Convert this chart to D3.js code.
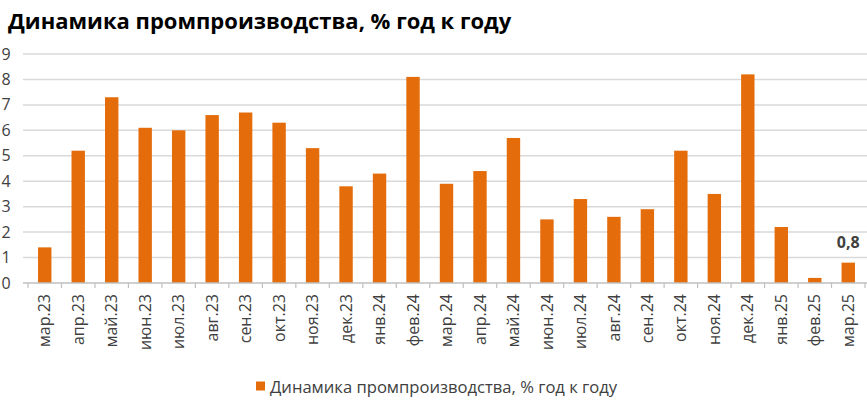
<!doctype html>
<html>
<head>
<meta charset="utf-8">
<script src="https://d3js.org/d3.v7.min.js"></script>
<style>
body { margin: 0; background: #fff; }
svg text { font-family: "Open Sans", "DejaVu Sans", sans-serif; }
</style>
</head>
<body>
<script>
// chart data
var months = ["мар.23","апр.23","май.23","июн.23","июл.23","авг.23","сен.23","окт.23","ноя.23","дек.23",
              "янв.24","фев.24","мар.24","апр.24","май.24","июн.24","июл.24","авг.24","сен.24","окт.24",
              "ноя.24","дек.24","янв.25","фев.25","мар.25"];
var values = [1.4, 5.2, 7.3, 6.1, 6.0, 6.6, 6.7, 6.3, 5.3, 3.8,
              4.3, 8.1, 3.9, 4.4, 5.7, 2.5, 3.3, 2.6, 2.9, 5.2,
              3.5, 8.2, 2.2, 0.2, 0.8];
var yTicks = [0, 1, 2, 3, 4, 5, 6, 7, 8, 9];
var title = "Динамика промпроизводства, % год к году";
var seriesName = "Динамика промпроизводства, % год к году";

var W = 867, H = 412;
var plotL = 28, plotR = 865, plotT = 54, plotB = 283;
var barColor = "#e46c0a";

var svg = d3.select("body").append("svg")
    .attr("width", W)
    .attr("height", H);

var x = d3.scaleBand()
    .domain(months)
    .range([plotL, plotR])
    .paddingInner(0.6)
    .paddingOuter(0.3);

var y = d3.scaleLinear()
    .domain([0, 9])
    .range([plotB, plotT]);

// title
svg.append("text")
    .attr("x", 8)
    .attr("y", 29)
    .attr("font-size", 22)
    .attr("font-weight", "bold")
    .attr("fill", "#000")
    .text(title);

// gridlines
svg.append("g").selectAll("line")
    .data(yTicks.filter(function(d) { return d > 0; }))
    .join("line")
    .attr("x1", 23)
    .attr("x2", W)
    .attr("y1", function(d) { return y(d); })
    .attr("y2", function(d) { return y(d); })
    .attr("stroke", "#d9d9d9")
    .attr("stroke-width", 1.5);

// y axis labels
svg.append("g").selectAll("text")
    .data(yTicks)
    .join("text")
    .attr("x", 6)
    .attr("y", function(d) { return y(d); })
    .attr("dy", "0.35em")
    .attr("text-anchor", "middle")
    .attr("font-size", 16)
    .attr("fill", "#404040")
    .text(function(d) { return d; });

// bars
svg.append("g").selectAll("rect")
    .data(values)
    .join("rect")
    .attr("x", function(d, i) { return x(months[i]); })
    .attr("y", function(d) { return y(d); })
    .attr("width", x.bandwidth())
    .attr("height", function(d) { return y(0) - y(d); })
    .attr("fill", barColor);

// x axis line + ticks between categories
var step = x.step();
svg.append("line")
    .attr("x1", 23).attr("x2", W)
    .attr("y1", plotB).attr("y2", plotB)
    .attr("stroke", "#bfbfbf")
    .attr("stroke-width", 1.5);

svg.append("g").selectAll("line")
    .data(d3.range(months.length + 1))
    .join("line")
    .attr("x1", function(i) { return plotL + i * step; })
    .attr("x2", function(i) { return plotL + i * step; })
    .attr("y1", plotB)
    .attr("y2", plotB + 5)
    .attr("stroke", "#bfbfbf")
    .attr("stroke-width", 1.2);

// x labels, rotated
svg.append("g").selectAll("text")
    .data(months)
    .join("text")
    .attr("transform", function(d) {
        return "translate(" + (x(d) + x.bandwidth() / 2) + "," + (plotB + 11) + ") rotate(-90)";
    })
    .attr("dy", "0.35em")
    .attr("text-anchor", "end")
    .attr("font-size", 16)
    .attr("fill", "#404040")
    .text(function(d) { return d; });

// label for the last bar
var last = months.length - 1;
svg.append("text")
    .attr("x", x(months[last]) + x.bandwidth() / 2)
    .attr("y", y(values[last]) - 15)
    .attr("text-anchor", "middle")
    .attr("font-size", 16)
    .attr("font-weight", "bold")
    .attr("fill", "#404040")
    .text(String(values[last]).replace(".", ","));

// legend
var lg = svg.append("g").attr("transform", "translate(256,386)");
lg.append("rect")
    .attr("x", 0).attr("y", -4.5)
    .attr("width", 9).attr("height", 9)
    .attr("fill", barColor);
lg.append("text")
    .attr("x", 14)
    .attr("y", 1)
    .attr("dy", "0.35em")
    .attr("font-size", 16.6)
    .attr("fill", "#404040")
    .text(seriesName);
</script>
</body>
</html>
